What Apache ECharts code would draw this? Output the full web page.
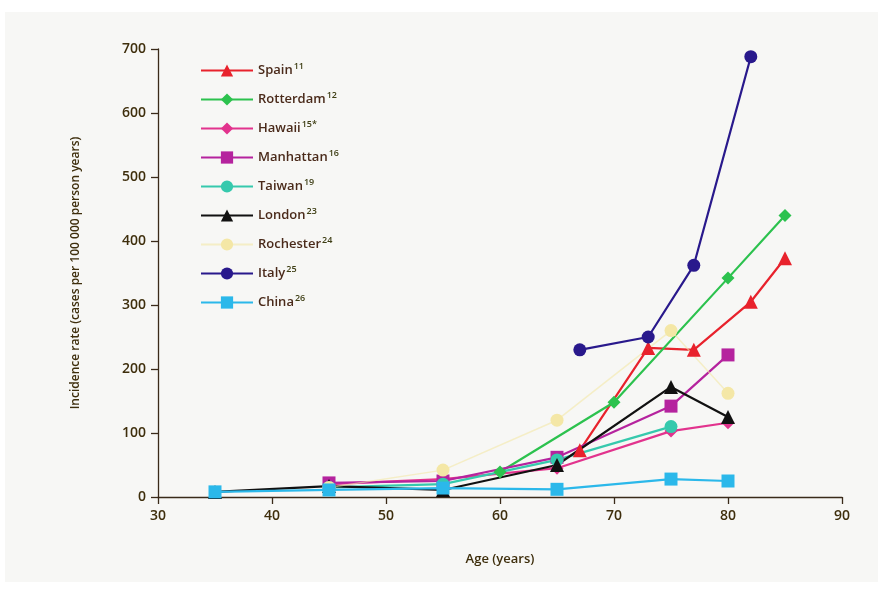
<!DOCTYPE html>
<html><head><meta charset="utf-8">
<script src="https://cdn.jsdelivr.net/npm/echarts@6/dist/echarts.min.js"></script>
<style>html,body{margin:0;padding:0;background:#fff}#c{width:888px;height:593px}</style>
</head><body><div id="c"></div>
<script>
const seriesNames = ['Spain','Rotterdam','Hawaii','Manhattan','Taiwan','London','Rochester','Italy','China'];
const refs = ['11','12','15*','16','19','23','24','25','26'];
const colors = ['#e8222c','#2cc24e','#e2338d','#b5239e','#36c9ad','#111111','#f4e7a6','#29198c','#2bb8ea'];
const symbols = ['triangle','diamond','diamond','rect','circle','triangle','circle','circle','rect'];

const spain     = [[67,73],[73,233],[77,230],[82,305],[85,373]];
const rotterdam = [[60,39],[70,148],[80,342],[85,440]];
const hawaii    = [[45,20],[55,28],[65,45],[75,103],[80,116]];
const manhattan = [[45,22],[55,25],[65,62],[75,142],[80,222]];
const taiwan    = [[45,15],[55,20],[65,58],[75,110]];
const london    = [[35,8],[45,17],[55,11],[65,50],[75,172],[80,125]];
const rochester = [[45,15],[55,42],[65,120],[75,260],[80,162]];
const italy     = [[67,230],[73,250],[77,362],[82,688]];
const china     = [[35,8],[45,11],[55,14],[65,12],[75,28],[80,25]];
const allData = [spain,rotterdam,hawaii,manhattan,taiwan,london,rochester,italy,china];

const xTicks = [30,40,50,60,70,80,90];
const yTicks = [0,100,200,300,400,500,600,700];

const txt = '#3e2e0c';
const axisCol = '#3a2a1a';
const font = 'Open Sans';
const chart = echarts.init(document.getElementById('c'));
chart.setOption({
  backgroundColor: '#ffffff',
  animation: false,
  graphic: [{type:'rect', z:-10, shape:{x:5,y:12,width:873,height:570}, style:{fill:'#f7f7f5'}}],
  grid: {left:158, right:46, top:49, bottom:96},
  xAxis: {
    type:'value', min:30, max:90, interval:10,
    name:'Age (years)', nameLocation:'middle', nameGap:56,
    nameTextStyle:{color:txt, fontFamily:font, fontSize:13, fontWeight:600},
    axisLine:{show:true, lineStyle:{color:axisCol, width:1.3}},
    axisTick:{show:true, length:7, lineStyle:{color:axisCol, width:1.3}},
    axisLabel:{color:txt, fontFamily:font, fontSize:14, margin:12, fontWeight:600,
      formatter: v => xTicks.includes(v) ? String(v) : ''},
    splitLine:{show:false}
  },
  yAxis: {
    type:'value', min:0, max:700, interval:100,
    name:'Incidence rate (cases per 100 000 person years)', nameLocation:'middle', nameGap:76,
    nameTextStyle:{color:txt, fontFamily:font, fontSize:12, fontWeight:600},
    axisLine:{show:true, lineStyle:{color:axisCol, width:1.3}},
    axisTick:{show:true, length:7, lineStyle:{color:axisCol, width:1.3}},
    axisLabel:{color:txt, fontFamily:font, fontSize:14, margin:12, fontWeight:600,
      formatter: v => yTicks.includes(v) ? String(v) : ''},
    splitLine:{show:false}
  },
  legend: {
    orient:'vertical', left:195, top:57, itemGap:14, itemWidth:52, itemHeight:15.3,
    data: seriesNames,
    formatter: n => '{n|' + n + '}{s|' + refs[seriesNames.indexOf(n)] + '}',
    textStyle:{ color:txt, rich:{
      n:{fontFamily:font, fontSize:13, fontWeight:600, color:'#4a2a1a'},
      s:{fontFamily:font, fontSize:9, fontWeight:600, color:'#3e3e14', verticalAlign:'top', padding:[0,0,8,1]}
    }}
  },
  series: seriesNames.map((n,i) => ({
    name:n, type:'line', data:allData[i],
    symbol:symbols[i], symbolSize: symbols[i]==='triangle' ? 14 : 13,
    showAllSymbol:true,
    itemStyle:{color:colors[i]},
    lineStyle:{color:colors[i], width: i===6 ? 1.5 : 2.2, opacity: i===6 ? 0.6 : 1},
    z: i===8 ? 5 : 2
  }))
});
</script></body></html>
